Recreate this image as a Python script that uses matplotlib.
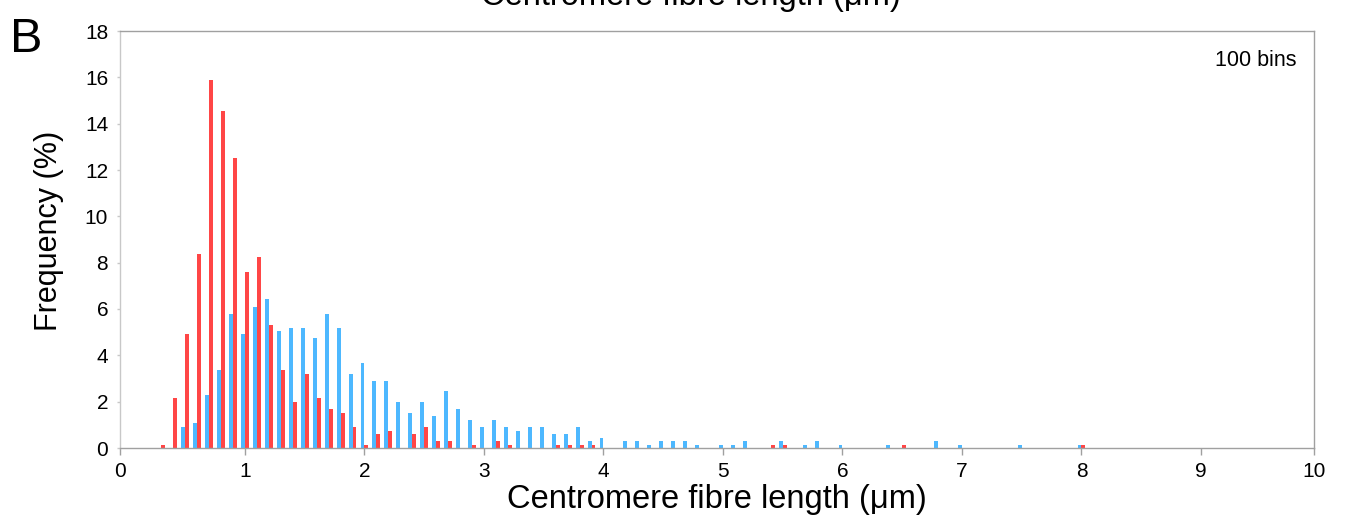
import numpy as np
import matplotlib
matplotlib.use('Agg')
import matplotlib.pyplot as plt

plt.rcParams['font.family'] = ['Liberation Sans', 'DejaVu Sans']

# 100 bins of 0.1 um, from 0.0 to 9.9
bin_centres = np.arange(100) / 10.0

# frequency (%) per bin, blue series
blue_freq = [0, 0, 0, 0, 0, 0.92, 1.09, 2.27, 3.37, 5.80,
             4.90, 6.09, 6.43, 5.03, 5.19, 5.19, 4.75, 5.78, 5.19, 3.19,
             3.67, 2.90, 2.90, 1.97, 1.51, 1.97, 1.38, 2.44, 1.68, 1.21,
             0.91, 1.21, 0.91, 0.73, 0.91, 0.91, 0.60, 0.60, 0.89, 0.30,
             0.45, 0, 0.30, 0.30, 0.15, 0.30, 0.30, 0.30, 0.15, 0,
             0.15, 0.15, 0.30, 0, 0, 0.30, 0, 0.15, 0.30, 0,
             0.15, 0, 0, 0, 0.15, 0, 0, 0, 0.30, 0,
             0.15, 0, 0, 0, 0, 0.15, 0, 0, 0, 0,
             0.15, 0, 0, 0, 0, 0, 0, 0, 0, 0,
             0, 0, 0, 0, 0, 0, 0, 0, 0, 0]

# frequency (%) per bin, red series
red_freq = [0, 0, 0, 0.15, 2.14, 4.90, 8.39, 15.88, 14.53, 12.53,
            7.61, 8.24, 5.32, 3.37, 1.99, 3.20, 2.14, 1.68, 1.51, 0.91,
            0.15, 0.61, 0.73, 0, 0.61, 0.91, 0.30, 0.30, 0, 0.15,
            0, 0.30, 0.15, 0, 0, 0, 0.15, 0.15, 0.15, 0.15,
            0, 0, 0, 0, 0, 0, 0, 0, 0, 0,
            0, 0, 0, 0, 0.15, 0.15, 0, 0, 0, 0,
            0, 0, 0, 0, 0, 0.15, 0, 0, 0, 0,
            0, 0, 0, 0, 0, 0, 0, 0, 0, 0,
            0.15, 0, 0, 0, 0, 0, 0, 0, 0, 0,
            0, 0, 0, 0, 0, 0, 0, 0, 0, 0]

x_ticklabels = ['0', '1', '2', '3', '4', '5', '6', '7', '8', '9', '10']

blue_col = '#4db8ff'
red_col = '#ff4646'
axis_col = '#a0a0a0'

fig = plt.figure(figsize=(13.46, 5.18), dpi=100)
ax = fig.add_axes([120/1346, 1-448/518, (1314-120)/1346, (448-31)/518])

w = 0.033
ax.bar(bin_centres - w/2, blue_freq, width=w, color=blue_col, linewidth=0)
ax.bar(bin_centres + w/2, red_freq, width=w, color=red_col, linewidth=0)

# the original axis is slightly offset: ticks 1-9 sit ~5px right of a plain 0-10 scale
x0, x1 = -0.046, 9.946
ax.set_xlim(x0, x1)
ax.set_ylim(0, 18)
ax.set_xticks([x0] + list(range(1, 10)) + [x1])
ax.set_xticklabels(x_ticklabels)
ax.set_yticks(range(0, 19, 2))
for s in ax.spines.values():
    s.set_color(axis_col)
    s.set_linewidth(1.0)
ax.spines['left'].set_color('#c8c8c8')
ax.tick_params(axis='x', direction='out', length=5, width=1, color=axis_col,
               labelsize=15, pad=5)
ax.tick_params(axis='y', direction='out', length=2.5, width=1, color='#c8c8c8',
               labelsize=15, pad=6)

ax.set_xlabel('Centromere fibre length (\u03bcm)', fontsize=23.5, labelpad=2)
ax.set_ylabel('Frequency (%)', fontsize=22)
ax.yaxis.set_label_coords(-0.047, 0.52)
ax.text(0.985, 0.955, '100 bins', transform=ax.transAxes, ha='right', va='top',
        fontsize=15.5)

fig.text(10/1346, 1-52/518, 'B', fontsize=35, ha='left', va='baseline')
# title cut off at the top edge of the figure
fig.text(691/1346, 1-5/518, 'Centromere fibre length (\u03bcm)', fontsize=23.5,
         ha='center', va='baseline')

plt.savefig('out.png', dpi=100)
